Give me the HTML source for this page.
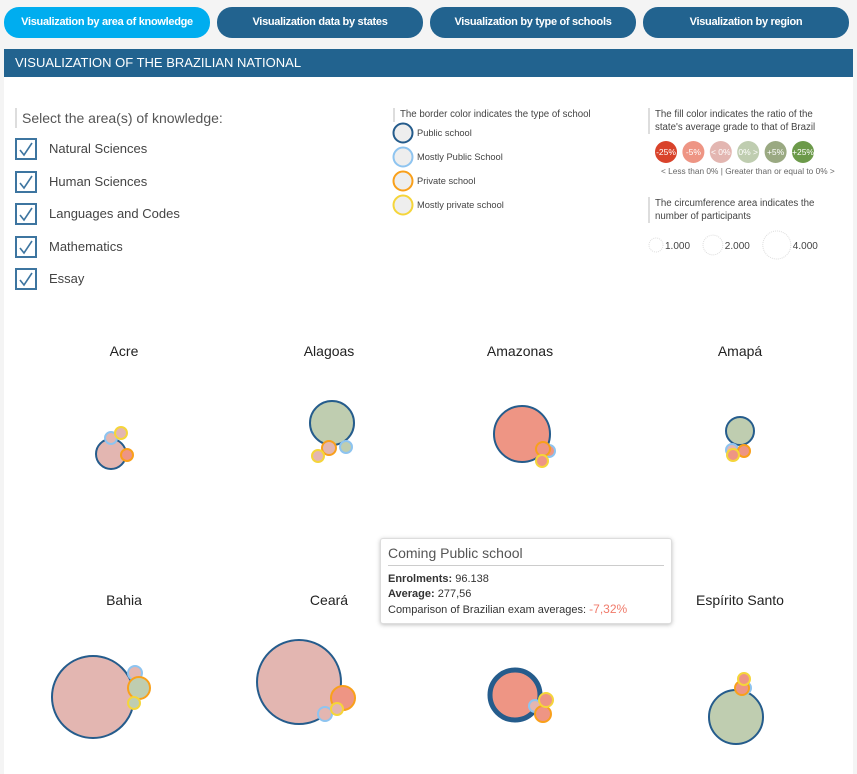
<!DOCTYPE html>
<html><head><meta charset="utf-8">
<style>
body{margin:0;width:857px;height:774px;overflow:hidden;background:#f4f4f4;font-family:"Liberation Sans",sans-serif;position:relative}
.tab{position:absolute;top:7px;height:31px;width:206px;border-radius:15px;background:#22638f;color:#fff;font-size:11px;font-weight:bold;text-align:center;line-height:31px;letter-spacing:-0.3px}
#hdr{position:absolute;left:4px;top:49px;width:849px;height:28px;background:#22638f;color:#fff;font-size:13px;line-height:28px;text-indent:11px}
#content{position:absolute;left:4px;top:77px;width:849px;height:697px;background:#fff}
.cb{position:absolute;left:15px;width:18px;height:18px;border:2px solid #3d75a0}
.cb svg{position:absolute;left:1px;top:1px}
.cbl{position:absolute;left:49px;font-size:13px;color:#444}
.small{position:absolute;font-size:9.7px;color:#444}
</style></head><body>
<div class="tab" style="left:4px;background:#00adef">Visualization by area of knowledge</div>
<div class="tab" style="left:217px">Visualization data by states</div>
<div class="tab" style="left:430px">Visualization by type of schools</div>
<div class="tab" style="left:643px">Visualization by region</div>
<div id="hdr">VISUALIZATION OF THE BRAZILIAN NATIONAL</div>
<div id="content"></div>

<div style="position:absolute;left:15px;top:108px;height:20px;border-left:2px solid #ddd;padding-left:5px;font-size:14px;color:#555;line-height:20px">Select the area(s) of knowledge:</div>
<div id="cbs"></div>

<div class="small" style="left:393px;top:108px;border-left:2px solid #ddd;padding-left:5px;height:14px;line-height:14px">The border color indicates the type of school</div>
<div class="small" style="left:648px;top:108px;border-left:2px solid #ddd;padding-left:5px;width:170px;line-height:13px">The fill color indicates the ratio of the state's average grade to that of Brazil</div>
<div class="small" style="left:661px;top:166px;font-size:8.3px;color:#666">&lt; Less than 0% | Greater than or equal to 0% &gt;</div>
<div class="small" style="left:648px;top:197px;border-left:2px solid #ddd;padding-left:5px;width:170px;line-height:13px">The circumference area indicates the number of participants</div>

<svg id="chart" width="857" height="774" style="position:absolute;left:0;top:0"></svg>

<div style="position:absolute;left:380px;top:538px;width:290px;height:84px;background:#fff;border:1px solid #ddd;border-radius:3px;box-shadow:0 1px 4px rgba(0,0,0,.25)">
<div style="position:absolute;left:7px;top:6px;font-size:14px;color:#555">Coming Public school</div>
<div style="position:absolute;left:7px;right:7px;top:26px;border-top:1px solid #ccc"></div>
<div style="position:absolute;left:7px;top:33px;font-size:11px;color:#333;line-height:15px"><b>Enrolments:</b> 96.138<br><b>Average:</b> 277,56<br>Comparison of Brazilian exam averages: <span style="color:#f07a6a;font-size:12px">-7,32%</span></div>
</div>

<script>
const areas=["Natural Sciences","Human Sciences","Languages and Codes","Mathematics","Essay"];
const states=["Acre","Alagoas","Amazonas","Amapá","Bahia","Ceará","","Espírito Santo"];
const schoolTypes=["Public school","Mostly Public School","Private school","Mostly private school"];
// participants per state per school type [public, mostlyPublic, private, mostlyPrivate]
const participants=[[5220,1000,1000,1000],[10800,1000,1306,1000],[17160,1000,1306,1000],[4590,1000,1000,1000],[36000,1306,2940,1000],[37700,1306,3450,1000],[14870,1000,1650,1306],[16000,1000,1306,1000]];
// ratio category index per state per type (0:-25%,1:-5%,2:<0%,3:0%>,4:+5%,5:+25%)
const ratios=[[2,2,1,2],[3,3,2,2],[1,1,1,1],[3,2,1,1],[2,2,3,3],[2,2,1,2],[1,2,1,1],[3,2,1,1]];
const ratioLabels=["-25%","-5%","< 0%","0% >","+5%","+25%"];
const sizeLegend=[1000,2000,4000];

const fillColors=["#d9432b","#ee9584","#e3b6b1","#bfcdb0","#9aa982","#6c9a4a"];
const borderColors=["#255c8c","#8ec4f0","#f9a01b","#f5d53a"];
const rScale=n=>0.2214*Math.sqrt(n);
const anchors=[[111,454],[332,423],[522,434],[740,431],[93,697],[299,682],[515,695],[736,717]];
const offs=[[[0,0],[0,-16],[16,1],[10,-21]],[[0,0],[14,24],[-3,25],[-14,33]],[[0,0],[27,17],[21,15],[20,27]],[[0,0],[-8,19],[4,20],[-7,24]],[[0,0],[42,-24],[46,-9],[41,6]],[[0,0],[26,32],[44,16],[38,27]],[[0,0],[20,11],[28,19],[31,5]],[[0,0],[9,-29],[6,-29],[8,-38]]];
const labelY=[[351,124],[351,329],[351,520],[351,740],[600,124],[600,329],[600,520],[600,740]];

const NS="http://www.w3.org/2000/svg";
const svg=document.getElementById('chart');
function mk(tag,attrs){const e=document.createElementNS(NS,tag);for(const k in attrs)e.setAttribute(k,attrs[k]);return e;}

const cbs=document.getElementById('cbs');
areas.forEach((a,i)=>{
 const y=138+i*32.5;
 const b=document.createElement('div');b.className='cb';b.style.top=y+'px';
 
 
 b.innerHTML='<svg width="16" height="16"><path d="M2 9 L6 14 L14 2" stroke="#3d75a0" stroke-width="1.6" fill="none"/></svg>';
 cbs.appendChild(b);
 const l=document.createElement('div');l.className='cbl';l.style.top=(y+3)+'px';l.textContent=a;
 
 
 cbs.appendChild(l);
});

schoolTypes.forEach((t,i)=>{
 const cy=133+i*24;
 const c=mk('circle',{cx:403,cy:cy,r:9.5,fill:'#eee',stroke:borderColors[i],'stroke-width':2});
 
 
 svg.appendChild(c);
 const tx=mk('text',{x:417,y:cy+3,'font-size':9.3,fill:'#444','font-family':'Liberation Sans'});tx.textContent=t;
 
 
 svg.appendChild(tx);
});
ratioLabels.forEach((t,i)=>{
 const cx=666+i*27.4;
 const c=mk('circle',{cx:cx,cy:152,r:11,fill:fillColors[i]});
 
 
 svg.appendChild(c);
 const tx=mk('text',{x:cx,y:155,'font-size':8.5,fill:'#fff','text-anchor':'middle','font-family':'Liberation Sans'});tx.textContent=t;
 
 
 svg.appendChild(tx);
});
let sx=649;
sizeLegend.forEach((n,i)=>{
 const r=rScale(n);
 const c=mk('circle',{cx:sx+r,cy:245,r:r,fill:'#fff',stroke:'#ddd','stroke-dasharray':'1,1'});
 
 
 svg.appendChild(c);
 const tx=mk('text',{x:sx+2*r+2,y:249,'font-size':10,fill:'#444','font-family':'Liberation Sans'});tx.textContent=(n/1000).toFixed(3);
 
 
 svg.appendChild(tx);
 sx+=2*r+2+38;
});

states.forEach((s,si)=>{
 const [lx,ly]=[labelY[si][1],labelY[si][0]];
 if(s){const tx=mk('text',{x:lx,y:ly+5,'font-size':14,fill:'#222','text-anchor':'middle','font-family':'Liberation Sans'});tx.textContent=s;
 
 
 svg.appendChild(tx);}
 participants[si].forEach((n,ti)=>{
  const r=rScale(n);
  const thick=(si===6&&ti===0);
  const c=mk('circle',{cx:anchors[si][0]+offs[si][ti][0],cy:anchors[si][1]+offs[si][ti][1],r:r-(thick?2:1),fill:fillColors[ratios[si][ti]],stroke:borderColors[ti],'stroke-width':thick?5:2});
  
  
  svg.appendChild(c);
 });
});
</script>
</body></html>
